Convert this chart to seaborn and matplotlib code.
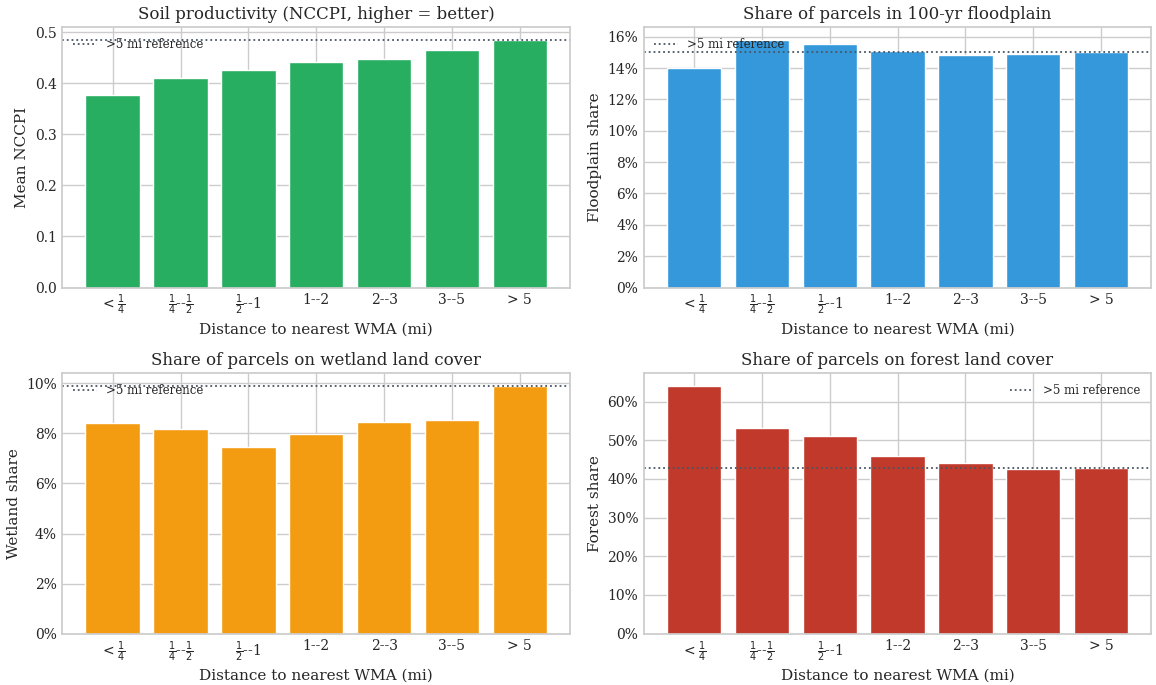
import matplotlib
matplotlib.use("Agg")
import matplotlib.pyplot as plt
from matplotlib.ticker import PercentFormatter, MultipleLocator
import seaborn as sns
import pandas as pd

# Distance bins (mathtext for the fractional ones)
bins = [r"$<\frac{1}{4}$", r"$\frac{1}{4}$--$\frac{1}{2}$", r"$\frac{1}{2}$--1",
        "1--2", "2--3", "3--5", "> 5"]

nccpi = [0.377, 0.410, 0.426, 0.441, 0.447, 0.465, 0.485]
floodplain = [0.140, 0.158, 0.155, 0.151, 0.148, 0.149, 0.1505]
wetland = [0.0842, 0.0819, 0.0744, 0.0796, 0.0847, 0.0853, 0.0990]
forest = [0.641, 0.531, 0.510, 0.460, 0.442, 0.427, 0.428]

panels = [
    ("Soil productivity (NCCPI, higher = better)", "Mean NCCPI", nccpi, "#27ae60", None, "upper left"),
    ("Share of parcels in 100-yr floodplain", "Floodplain share", floodplain, "#3498db", 0.02, "upper left"),
    ("Share of parcels on wetland land cover", "Wetland share", wetland, "#f39c12", 0.02, "upper left"),
    ("Share of parcels on forest land cover", "Forest share", forest, "#c0392b", 0.10, "upper right"),
]

sns.set_theme(style="whitegrid")
plt.rcParams["font.family"] = ["DejaVu Serif"]

fig, axes = plt.subplots(2, 2, figsize=(11.56, 6.85), dpi=100)

for ax, (title, ylabel, vals, color, step, loc) in zip(axes.flat, panels):
    df = pd.DataFrame({"bin": bins, "value": vals})
    sns.barplot(data=df, x="bin", y="value", color=color, saturation=1,
                edgecolor="white", linewidth=1, ax=ax)
    ax.axhline(vals[-1], color="#4a5563", linestyle=":", linewidth=1.3,
               label=">5 mi reference")
    ax.set_xlim(-0.74, len(bins) - 1 + 0.74)
    ax.set_title(title, fontsize=12, pad=6)
    ax.set_ylabel(ylabel, fontsize=11, labelpad=4)
    ax.set_xlabel("Distance to nearest WMA (mi)", fontsize=11, labelpad=4)
    ax.tick_params(axis="both", labelsize=10, length=0, pad=4)
    if step is not None:
        ax.yaxis.set_major_locator(MultipleLocator(step))
        ax.yaxis.set_major_formatter(PercentFormatter(1, decimals=0))
    ax.xaxis.grid(True)
    ax.yaxis.grid(True)
    ax.set_axisbelow(True)
    ax.legend(loc=loc, frameon=False, fontsize=8.5)

fig.subplots_adjust(left=0.054, right=0.996, top=0.96, bottom=0.075,
                    hspace=0.33, wspace=0.145)
fig.savefig("out.png", dpi=100)
